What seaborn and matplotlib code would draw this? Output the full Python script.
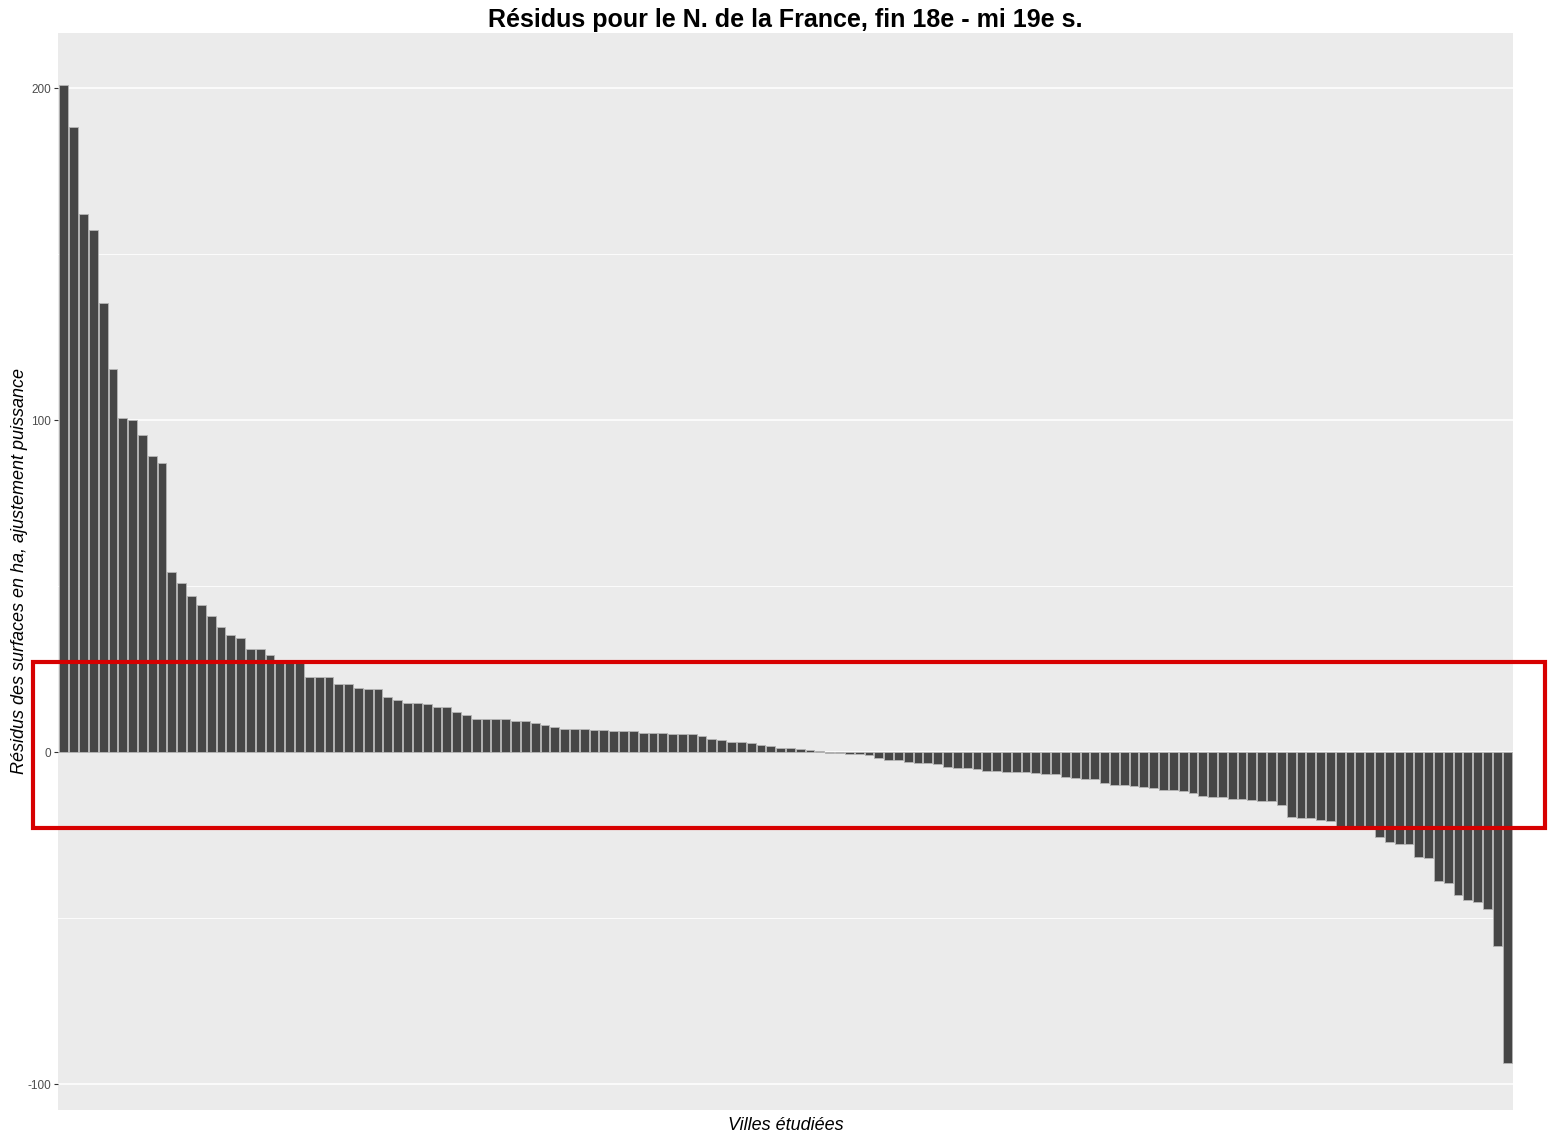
import numpy as np
import pandas as pd
import matplotlib
matplotlib.use('Agg')
import matplotlib.pyplot as plt
import matplotlib.transforms as mtransforms
from matplotlib.patches import Rectangle
import seaborn as sns

# residuals (ha), cities sorted from largest to smallest
resid_top = [200.8, 188.3, 162.0, 157.4, 135.2, 115.4, 100.6, 100.0, 95.6, 89.2, 87.2,
             54.4, 50.9, 46.9, 44.2, 41.0, 37.6, 35.3, 34.5, 31.0, 31.0, 29.3,
             27.8, 27.2, 26.8]
resid_mid_pos = [22.7, 22.7, 22.7, 20.5, 20.5, 19.4, 18.9, 18.9, 16.7, 15.6, 14.8, 14.8,
                 14.4, 13.6, 13.6, 12.0, 11.2, 10.1, 10.1, 10.1, 10.1, 9.4, 9.4, 8.9,
                 8.2, 7.5, 7.1, 7.1, 7.1,
                 6.7, 6.7, 6.3, 6.3, 6.3, 5.9, 5.9, 5.9, 5.6, 5.6, 5.6, 4.9, 4.0, 3.6,
                 2.9, 2.9, 2.6, 2.2, 1.7, 1.3, 1.3, 0.9, 0.6, 0.3]
resid_mid_neg = [-0.2, -0.4, -0.6, -0.6, -1.0, -1.7, -2.5, -2.5, -2.9, -3.3, -3.3, -3.7,
                 -4.4, -4.8, -4.8, -5.2, -5.6, -5.6, -6.0, -6.0, -6.0, -6.4, -6.7, -6.7,
                 -7.4, -7.8, -8.2, -8.2,
                 -9.4, -9.8, -9.8, -10.2, -10.6, -10.9, -11.3, -11.3, -11.7, -12.4, -13.2,
                 -13.6, -13.6, -14.0, -14.0, -14.4, -14.8, -14.8, -16.0, -19.4, -19.8]
resid_bottom = [-19.9, -20.5, -20.9, -22.3, -22.6, -23.0, -23.3, -25.5, -27.0, -27.8, -27.8,
                -31.5, -31.9, -38.9, -39.3, -43.0, -44.6, -45.0, -47.2, -58.3, -93.5]

residus = resid_top + resid_mid_pos + resid_mid_neg + resid_bottom
villes = ['V%03d' % (i + 1) for i in range(len(residus))]
df = pd.DataFrame({'ville': villes, 'residu': residus})

y_major = [-100, 0, 100, 200]
y_minor = [-50, 50, 150]
# highlighted band around zero
band_low, band_high = -22.9, 27.1

plt.rcParams['font.family'] = ['Liberation Sans', 'DejaVu Sans']

fig = plt.figure(figsize=(15.52, 11.34), dpi=100)
ax = fig.add_axes([58 / 1552, 1 - 1110 / 1134, 1455 / 1552, 1077 / 1134])
ax.set_facecolor('#EBEBEB')

sns.barplot(data=df, x='ville', y='residu', order=villes, color='#464646',
            saturation=1, width=0.9, edgecolor='#B5B5B5', linewidth=0.6, ax=ax, zorder=3)

ax.set_xlim(-0.6, len(residus) - 0.4)
ax.set_ylim(-107.8, 216.6)

ax.set_yticks(y_major)
ax.set_yticks(y_minor, minor=True)
ax.set_yticklabels([str(v) for v in y_major], fontsize=8.5, color='#4D4D4D')
ax.grid(which='major', axis='y', color='white', linewidth=1.1, zorder=0)
ax.grid(which='minor', axis='y', color='white', linewidth=0.6, zorder=0)
ax.grid(axis='x', visible=False)
ax.set_axisbelow(True)
ax.tick_params(axis='y', which='major', length=3, color='#333333', pad=2)
ax.tick_params(axis='y', which='minor', length=0)
ax.tick_params(axis='x', bottom=False, labelbottom=False)
for s in ax.spines.values():
    s.set_visible(False)

ax.set_title('Résidus pour le N. de la France, fin 18e - mi 19e s.',
             fontsize=18, fontweight='bold', pad=4)
ax.set_xlabel('Villes étudiées', fontsize=13, fontstyle='italic', va='center')
ax.set_ylabel('Résidus des surfaces en ha, ajustement puissance', fontsize=13,
              fontstyle='italic', va='center')
ax.xaxis.set_label_coords(0.5, -15 / 1077)
ax.yaxis.set_label_coords(-38 / 1455, 0.5)

# red highlight box (extends past the panel)
trans = mtransforms.blended_transform_factory(ax.transAxes, ax.transData)
box = Rectangle((-25 / 1455, band_low), (1545 - 33) / 1455, band_high - band_low,
                transform=trans, fill=False, edgecolor='#D70000', linewidth=3,
                clip_on=False, zorder=10)
ax.add_patch(box)

plt.savefig('out.png', dpi=100)
